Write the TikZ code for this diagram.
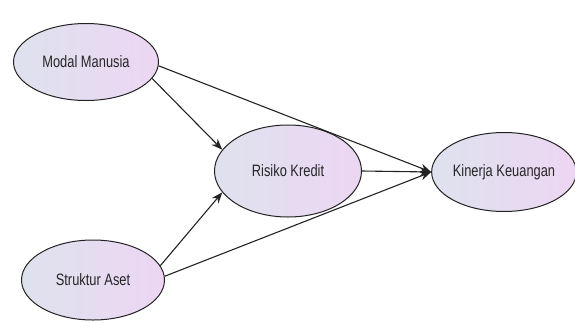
\documentclass[tikz,border=0pt]{standalone}
\usepackage{fontspec}
\setmainfont{Liberation Sans}[FakeStretch=0.78]
\usetikzlibrary{shapes.geometric,arrows.meta}
\definecolor{lleft}{RGB}{222,226,238}
\definecolor{lright}{RGB}{237,214,243}
\definecolor{edgec}{RGB}{35,35,35}
\tikzset{
  latent/.style={ellipse, draw=edgec, line width=1pt, inner sep=0pt,
    left color=lleft, right color=lright, font=\fontsize{16.5}{19}\selectfont, text=black!85},
  path/.style={draw=edgec, line width=1.1pt, -{Stealth[length=11pt,width=8.5pt]}}
}
\begin{document}
\begin{tikzpicture}[x=1pt,y=-1pt]
\useasboundingbox (0,0) rectangle (575,322);
\node[latent, minimum width=145pt, minimum height=77pt] (M) at (86,62) {Modal Manusia};
\node[latent, minimum width=147pt, minimum height=92pt] (R) at (288,171) {Risiko Kredit};
\node[latent, minimum width=137pt, minimum height=79pt] (K) at (504,172) {Kinerja Keuangan};
\node[latent, minimum width=143pt, minimum height=80pt] (S) at (93,280) {Struktur Aset};
\draw[path] (M.-3) -- (K.west);
\draw[path] (M.-14) -- (R.162);
\draw[path] (S.12) -- (R.198);
\draw[path] (S.3) -- (K.west);
\draw[path] (R.east) -- (K.west);
\end{tikzpicture}
\end{document}
